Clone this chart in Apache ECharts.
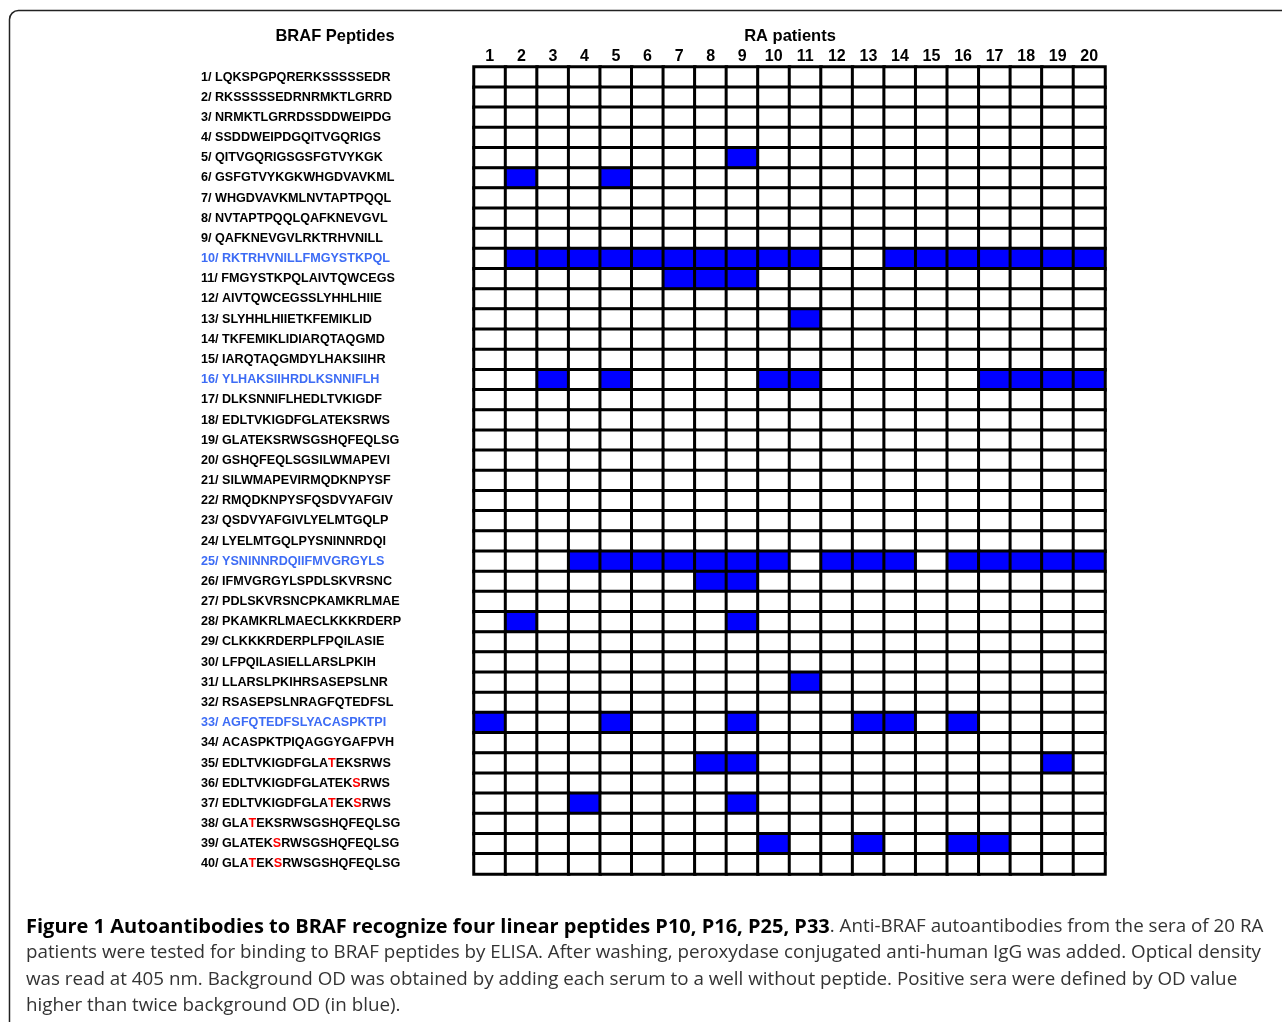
<!DOCTYPE html>
<html>
<head>
<meta charset="utf-8">
<script src="https://cdn.jsdelivr.net/npm/echarts@6/dist/echarts.min.js"></script>
<style>
html,body{margin:0;padding:0;background:#fff;}
#chart{width:1282px;height:1022px;}
</style>
</head>
<body>
<div id="chart"></div>
<script>
// Patients (columns)
var patients = ['1','2','3','4','5','6','7','8','9','10','11','12','13','14','15','16','17','18','19','20'];

// BRAF peptides (rows)
var peptides = [
  'LQKSPGPQRERKSSSSSEDR','RKSSSSSEDRNRMKTLGRRD','NRMKTLGRRDSSDDWEIPDG','SSDDWEIPDGQITVGQRIGS',
  'QITVGQRIGSGSFGTVYKGK','GSFGTVYKGKWHGDVAVKML','WHGDVAVKMLNVTAPTPQQL','NVTAPTPQQLQAFKNEVGVL',
  'QAFKNEVGVLRKTRHVNILL','RKTRHVNILLFMGYSTKPQL','FMGYSTKPQLAIVTQWCEGS','AIVTQWCEGSSLYHHLHIIE',
  'SLYHHLHIIETKFEMIKLID','TKFEMIKLIDIARQTAQGMD','IARQTAQGMDYLHAKSIIHR','YLHAKSIIHRDLKSNNIFLH',
  'DLKSNNIFLHEDLTVKIGDF','EDLTVKIGDFGLATEKSRWS','GLATEKSRWSGSHQFEQLSG','GSHQFEQLSGSILWMAPEVI',
  'SILWMAPEVIRMQDKNPYSF','RMQDKNPYSFQSDVYAFGIV','QSDVYAFGIVLYELMTGQLP','LYELMTGQLPYSNINNRDQI',
  'YSNINNRDQIIFMVGRGYLS','IFMVGRGYLSPDLSKVRSNC','PDLSKVRSNCPKAMKRLMAE','PKAMKRLMAECLKKKRDERP',
  'CLKKKRDERPLFPQILASIE','LFPQILASIELLARSLPKIH','LLARSLPKIHRSASEPSLNR','RSASEPSLNRAGFQTEDFSL',
  'AGFQTEDFSLYACASPKTPI','ACASPKTPIQAGGYGAFPVH','EDLTVKIGDFGLATEKSRWS','EDLTVKIGDFGLATEKSRWS',
  'EDLTVKIGDFGLATEKSRWS','GLATEKSRWSGSHQFEQLSG','GLATEKSRWSGSHQFEQLSG','GLATEKSRWSGSHQFEQLSG'
];

// Peptides recognised (shown in blue in the list)
var recognisedPeptides = [10, 16, 25, 33];

// Phosphorylation-site letters shown in red: peptide number -> letter positions (0-based)
var redLetters = {35:[13], 36:[16], 37:[13,16], 38:[3], 39:[6], 40:[3,6]};

// Positive patients for each peptide (1-based patient numbers)
var positives = {
  5:[9],
  6:[2,5],
  10:[2,3,4,5,6,7,8,9,10,11,14,15,16,17,18,19,20],
  11:[7,8,9],
  13:[11],
  16:[3,5,10,11,17,18,19,20],
  25:[4,5,6,7,8,9,10,12,13,14,16,17,18,19,20],
  26:[8,9],
  28:[2,9],
  31:[11],
  33:[1,5,9,13,14,16],
  35:[8,9,19],
  37:[4,9],
  39:[10,13,16,17]
};

var captionBold = 'Figure 1 Autoantibodies to BRAF recognize four linear peptides P10, P16, P25, P33';
var captionLines = [
  '. Anti-BRAF autoantibodies from the sera of 20 RA',
  'patients were tested for binding to BRAF peptides by ELISA. After washing, peroxydase conjugated anti-human IgG was added. Optical density',
  'was read at 405 nm. Background OD was obtained by adding each serum to a well without peptide. Positive sera were defined by OD value',
  'higher than twice background OD (in blue).'
];

var rowLabels = peptides.map(function(p, i){ return (i+1) + '/ ' + p; });

var data = [];
for (var r = 0; r < peptides.length; r++) {
  var pos = positives[r+1] || [];
  for (var c = 0; c < patients.length; c++) {
    data.push([c, r, pos.indexOf(c+1) >= 0 ? 1 : 0]);
  }
}

var labelFont = '"Liberation Sans", Arial, sans-serif';
var capFont = '"Open Sans", sans-serif';
var lblSize = 12.6;
var chart = echarts.init(document.getElementById('chart'));
var option = {
  backgroundColor: '#fff',
  animation: false,
  grid: { left: 474, top: 67, width: 631, height: 807 },
  xAxis: {
    type: 'category', data: patients, position: 'top',
    axisLine: { show: false }, axisTick: { show: false }, splitLine: { show: false },
    axisLabel: { margin: 2, fontSize: 16, fontWeight: 'bold', color: '#000', fontFamily: labelFont }
  },
  yAxis: {
    type: 'category', data: rowLabels, inverse: true,
    axisLine: { show: false }, axisTick: { show: false }, splitLine: { show: false },
    axisLabel: {
      align: 'left', margin: 273, fontSize: lblSize, fontWeight: 'bold', color: '#000', fontFamily: labelFont,
      formatter: function (value, idx) {
        var n = idx + 1;
        var prefix = n + '/ ';
        var seq = peptides[idx];
        if (recognisedPeptides.indexOf(n) >= 0) return '{bl|' + prefix + seq + '}';
        var reds = redLetters[n];
        if (!reds) return '{k|' + prefix + seq + '}';
        var out = '{k|' + prefix;
        for (var i = 0; i < seq.length; i++) {
          if (reds.indexOf(i) >= 0) out += '}{r|' + seq[i] + '}{k|';
          else out += seq[i];
        }
        out += '}';
        return out;
      },
      rich: {
        k: { color: '#000', fontSize: lblSize, fontWeight: 'bold', fontFamily: labelFont },
        bl: { color: '#3d6cf5', fontSize: lblSize, fontWeight: 'bold', fontFamily: labelFont },
        r: { color: '#ff0000', fontSize: lblSize, fontWeight: 'bold', fontFamily: labelFont }
      }
    }
  },
  visualMap: {
    type: 'piecewise', show: false, dimension: 2,
    pieces: [{ value: 0, color: '#ffffff' }, { value: 1, color: '#0000ff' }]
  },
  series: [{
    type: 'heatmap', data: data,
    itemStyle: { borderColor: '#000', borderWidth: 3 },
    emphasis: { disabled: true }
  }],
  graphic: [
    { type: 'rect', shape: { x: 9.5, y: 10.5, width: 1300, height: 1040, r: 9 },
      style: { fill: 'none', stroke: '#222', lineWidth: 1.5 }, silent: true },
    { type: 'text', x: 335, y: 36, style: { text: 'BRAF Peptides', font: 'bold 16.5px ' + labelFont, fill: '#000', textAlign: 'center', textVerticalAlign: 'middle' } },
    { type: 'text', x: 790, y: 36, style: { text: 'RA patients', font: 'bold 16.5px ' + labelFont, fill: '#000', textAlign: 'center', textVerticalAlign: 'middle' } },
    { type: 'text', x: 26, y: 927, style: {
        text: '{b|' + captionBold + '}{n|' + captionLines[0] + '}',
        textVerticalAlign: 'middle',
        rich: {
          b: { font: 'bold 20px ' + capFont, fill: '#000' },
          n: { font: '18.8px ' + capFont, fill: '#333' }
        }
      } },
    { type: 'text', x: 26, y: 953, style: { text: captionLines[1], font: '18.8px ' + capFont, fill: '#333', textVerticalAlign: 'middle' } },
    { type: 'text', x: 26, y: 980, style: { text: captionLines[2], font: '18.8px ' + capFont, fill: '#333', textVerticalAlign: 'middle' } },
    { type: 'text', x: 26, y: 1006, style: { text: captionLines[3], font: '18.8px ' + capFont, fill: '#333', textVerticalAlign: 'middle' } }
  ]
};
chart.setOption(option);
</script>
</body>
</html>
